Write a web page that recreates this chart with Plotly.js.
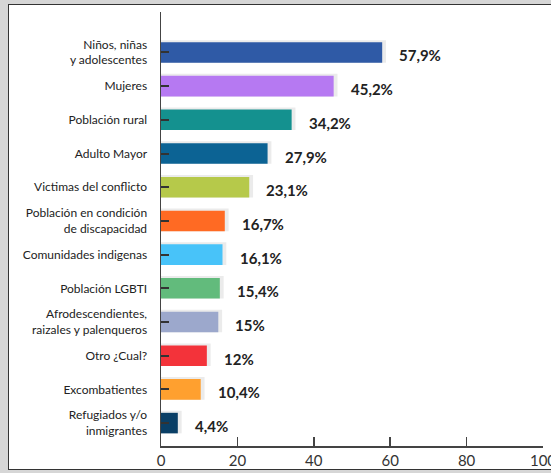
<!DOCTYPE html>
<html>
<head>
<meta charset="utf-8">
<script src="https://cdn.plot.ly/plotly-3.0.1.min.js"></script>
<style>
  html, body { margin:0; padding:0; width:551px; height:473px; overflow:hidden; background:#d6d6d6; }
  #frame { position:absolute; left:8px; top:4px; width:543px; height:466px; background:#ffffff;
           border-left:1.5px solid #333; border-top:1.5px solid #333; border-bottom:1.5px solid #333; box-sizing:border-box; }
  #chart { position:absolute; left:0; top:0; width:551px; height:473px; }
</style>
</head>
<body>
<div id="frame"></div>
<div id="chart"></div>
<script>
const categories = [
  "Niños, niñas<br>y adolescentes",
  "Mujeres",
  "Población rural",
  "Adulto Mayor",
  "Victimas del conflicto",
  "Población en condición<br>de discapacidad",
  "Comunidades indigenas",
  "Población LGBTI",
  "Afrodescendientes,<br>raizales y palenqueros",
  "Otro ¿Cual?",
  "Excombatientes",
  "Refugiados y/o<br>inmigrantes"
];
const values = [57.9, 45.2, 34.2, 27.9, 23.1, 16.7, 16.1, 15.4, 15, 12, 10.4, 4.4];
const valueLabels = ["57,9%", "45,2%", "34,2%", "27,9%", "23,1%", "16,7%", "16,1%", "15,4%", "15%", "12%", "10,4%", "4,4%"];
const barColors = ["#2f5aa6", "#b679f2", "#14918f", "#0c6394", "#b6c94a", "#ff6a23", "#48c3f9",
                   "#62bb7c", "#9ca8cc", "#f3333a", "#ffa02f", "#0a3f66"];
const xTicks = [0, 20, 40, 60, 80, 100];

const shadow = {
  type: "bar", orientation: "h",
  y: categories, x: values.map(v => v + 1), base: 0,
  width: 0.67, offset: -0.365,
  marker: { color: "#ebebeb" },
  hoverinfo: "skip", showlegend: false
};
const bars = {
  type: "bar", orientation: "h",
  y: categories, x: values,
  width: 0.61,
  marker: { color: barColors },
  showlegend: false
};

const annotations = values.map((v, i) => ({
  x: v, y: categories[i], xref: "x", yref: "y",
  text: valueLabels[i], showarrow: false,
  xanchor: "left", yanchor: "middle", xshift: 15, yshift: -3,
  font: { family: "Lato", size: 15, color: "#222", weight: "bold" }
}));

const layout = {
  width: 551, height: 473,
  margin: { l: 161, r: 8, t: 12, b: 27 },
  paper_bgcolor: "rgba(0,0,0,0)",
  plot_bgcolor: "rgba(0,0,0,0)",
  barmode: "overlay",
  annotations: annotations,
  xaxis: {
    range: [0, 100], tickvals: xTicks, ticktext: xTicks.map(String),
    showgrid: false, zeroline: false,
    showline: true, linecolor: "#444", linewidth: 1.5,
    ticks: "inside", ticklen: 9, tickwidth: 1.5, tickcolor: "#444",
    ticklabeloverflow: "allow",
    tickfont: { family: "Lato", size: 15, color: "#333" },
    fixedrange: true
  },
  yaxis: {
    type: "category", categoryorder: "array", categoryarray: categories,
    range: [11.68, -1.2],
    showgrid: false, zeroline: false,
    showline: true, linecolor: "#444", linewidth: 1.5,
    ticks: "inside", ticklen: 8, tickwidth: 2, tickcolor: "#333",
    ticklabelstandoff: 10,
    tickfont: { family: "Lato", size: 12, color: "#222" },
    fixedrange: true
  },
  font: { family: "Lato" }
};

Plotly.newPlot("chart", [shadow, bars], layout, { displayModeBar: false, staticPlot: true });
</script>
</body>
</html>
